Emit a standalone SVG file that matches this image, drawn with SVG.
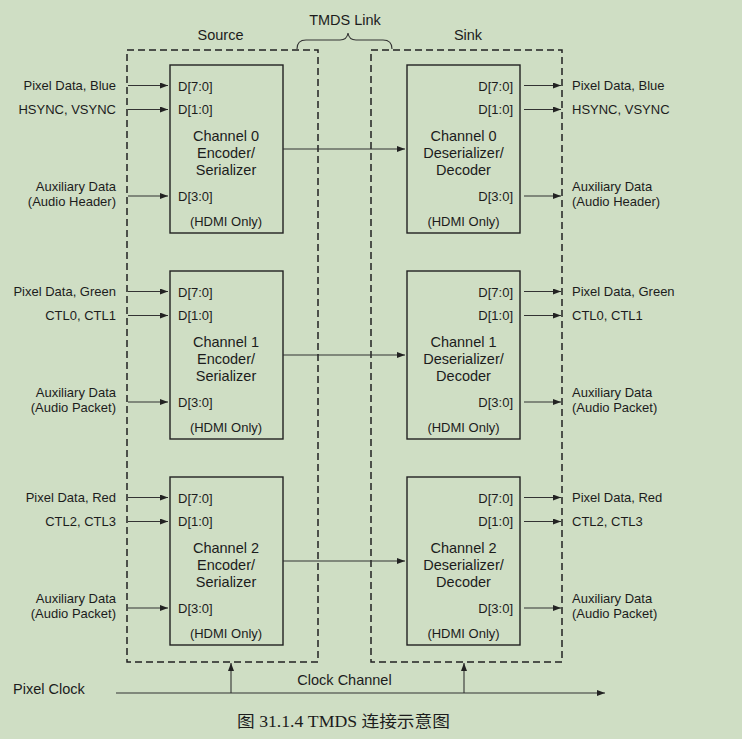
<svg xmlns="http://www.w3.org/2000/svg" width="742" height="739" viewBox="0 0 742 739">
<defs>
<style>
text{font-family:"Liberation Sans",Arial,sans-serif;fill:#1c1c1c}
.lg{font-size:14.5px}
.sm{font-size:13px}
.ctr{text-anchor:middle}
.end{text-anchor:end}
.dash{fill:none;stroke:#222;stroke-width:1.5;stroke-dasharray:7 4}
.box{fill:none;stroke:#222;stroke-width:1.4}
.ln{fill:none;stroke:#333;stroke-width:1.1}
.cap{font-family:"Liberation Serif","Noto Sans CJK SC",serif;font-size:16px}
</style>
<marker id="ah" markerUnits="userSpaceOnUse" markerWidth="8" markerHeight="6" refX="8" refY="3" orient="auto">
<path d="M0,0 L8,3 L0,6 z" fill="#222"/>
</marker>
</defs>
<rect x="0" y="0" width="742" height="739" fill="#cfdec4"/>

<g id="source">
<rect class="dash" x="127" y="50" width="191" height="612"/>
<text class="lg ctr" x="220.5" y="40">Source</text>
</g>
<g id="sink">
<rect class="dash" x="371" y="50" width="191" height="612"/>
<text class="lg ctr" x="468" y="40">Sink</text>
</g>
<g id="tmds-link">
<path class="ln" d="M297,49 Q297,40 306,40 L340,40 Q347,40 348,33 Q349,40 356,40 L383,40 Q392,40 392,49"/>
<text class="lg ctr" x="345" y="25">TMDS Link</text>
</g>

<g id="src-ch0">
<rect class="box" x="170" y="65" width="113" height="168"/>
<text class="sm" x="178" y="90.5">D[7:0]</text>
<text class="sm" x="178" y="114">D[1:0]</text>
<text class="sm" x="178" y="200.5">D[3:0]</text>
<text class="lg ctr" x="226" y="140.5">Channel 0</text>
<text class="lg ctr" x="226" y="158">Encoder/</text>
<text class="lg ctr" x="226" y="175">Serializer</text>
<text class="sm ctr" x="226" y="225.5">(HDMI Only)</text>
</g>
<g id="src-ch1">
<rect class="box" x="170" y="271" width="113" height="168"/>
<text class="sm" x="178" y="296.5">D[7:0]</text>
<text class="sm" x="178" y="320">D[1:0]</text>
<text class="sm" x="178" y="406.5">D[3:0]</text>
<text class="lg ctr" x="226" y="346.5">Channel 1</text>
<text class="lg ctr" x="226" y="364">Encoder/</text>
<text class="lg ctr" x="226" y="381">Serializer</text>
<text class="sm ctr" x="226" y="431.5">(HDMI Only)</text>
</g>
<g id="src-ch2">
<rect class="box" x="170" y="477" width="113" height="168"/>
<text class="sm" x="178" y="502.5">D[7:0]</text>
<text class="sm" x="178" y="526">D[1:0]</text>
<text class="sm" x="178" y="612.5">D[3:0]</text>
<text class="lg ctr" x="226" y="552.5">Channel 2</text>
<text class="lg ctr" x="226" y="570">Encoder/</text>
<text class="lg ctr" x="226" y="587">Serializer</text>
<text class="sm ctr" x="226" y="637.5">(HDMI Only)</text>
</g>

<g id="snk-ch0">
<rect class="box" x="407" y="65" width="113" height="168"/>
<text class="sm end" x="513" y="90.5">D[7:0]</text>
<text class="sm end" x="513" y="114">D[1:0]</text>
<text class="sm end" x="513" y="200.5">D[3:0]</text>
<text class="lg ctr" x="463.5" y="140.5">Channel 0</text>
<text class="lg ctr" x="463.5" y="158">Deserializer/</text>
<text class="lg ctr" x="463.5" y="175">Decoder</text>
<text class="sm ctr" x="463.5" y="225.5">(HDMI Only)</text>
</g>
<g id="snk-ch1">
<rect class="box" x="407" y="271" width="113" height="168"/>
<text class="sm end" x="513" y="296.5">D[7:0]</text>
<text class="sm end" x="513" y="320">D[1:0]</text>
<text class="sm end" x="513" y="406.5">D[3:0]</text>
<text class="lg ctr" x="463.5" y="346.5">Channel 1</text>
<text class="lg ctr" x="463.5" y="364">Deserializer/</text>
<text class="lg ctr" x="463.5" y="381">Decoder</text>
<text class="sm ctr" x="463.5" y="431.5">(HDMI Only)</text>
</g>
<g id="snk-ch2">
<rect class="box" x="407" y="477" width="113" height="168"/>
<text class="sm end" x="513" y="502.5">D[7:0]</text>
<text class="sm end" x="513" y="526">D[1:0]</text>
<text class="sm end" x="513" y="612.5">D[3:0]</text>
<text class="lg ctr" x="463.5" y="552.5">Channel 2</text>
<text class="lg ctr" x="463.5" y="570">Deserializer/</text>
<text class="lg ctr" x="463.5" y="587">Decoder</text>
<text class="sm ctr" x="463.5" y="637.5">(HDMI Only)</text>
</g>

<g id="labels-in">
<text class="sm end" x="116" y="90">Pixel Data, Blue</text>
<text class="sm end" x="116" y="114">HSYNC, VSYNC</text>
<text class="sm end" x="116" y="191">Auxiliary Data</text>
<text class="sm end" x="116" y="206">(Audio Header)</text>
<text class="sm end" x="116" y="296">Pixel Data, Green</text>
<text class="sm end" x="116" y="320">CTL0, CTL1</text>
<text class="sm end" x="116" y="397">Auxiliary Data</text>
<text class="sm end" x="116" y="412">(Audio Packet)</text>
<text class="sm end" x="116" y="502">Pixel Data, Red</text>
<text class="sm end" x="116" y="526">CTL2, CTL3</text>
<text class="sm end" x="116" y="603">Auxiliary Data</text>
<text class="sm end" x="116" y="618">(Audio Packet)</text>
</g>
<g id="labels-out">
<text class="sm" x="572" y="90">Pixel Data, Blue</text>
<text class="sm" x="572" y="114">HSYNC, VSYNC</text>
<text class="sm" x="572" y="191">Auxiliary Data</text>
<text class="sm" x="572" y="206">(Audio Header)</text>
<text class="sm" x="572" y="296">Pixel Data, Green</text>
<text class="sm" x="572" y="320">CTL0, CTL1</text>
<text class="sm" x="572" y="397">Auxiliary Data</text>
<text class="sm" x="572" y="412">(Audio Packet)</text>
<text class="sm" x="572" y="502">Pixel Data, Red</text>
<text class="sm" x="572" y="526">CTL2, CTL3</text>
<text class="sm" x="572" y="603">Auxiliary Data</text>
<text class="sm" x="572" y="618">(Audio Packet)</text>
</g>

<g id="connectors" class="ln" marker-end="url(#ah)">
<line x1="128" y1="85.5" x2="168" y2="85.5"/>
<line x1="128" y1="109.5" x2="168" y2="109.5"/>
<line x1="128" y1="196" x2="168" y2="196"/>
<line x1="128" y1="291.5" x2="168" y2="291.5"/>
<line x1="128" y1="315.5" x2="168" y2="315.5"/>
<line x1="128" y1="402" x2="168" y2="402"/>
<line x1="128" y1="497.5" x2="168" y2="497.5"/>
<line x1="128" y1="521.5" x2="168" y2="521.5"/>
<line x1="128" y1="608" x2="168" y2="608"/>
<line x1="283" y1="149" x2="405" y2="149"/>
<line x1="283" y1="355" x2="405" y2="355"/>
<line x1="283" y1="561" x2="405" y2="561"/>
<line x1="524" y1="85.5" x2="561" y2="85.5"/>
<line x1="524" y1="109.5" x2="561" y2="109.5"/>
<line x1="524" y1="196" x2="561" y2="196"/>
<line x1="524" y1="291.5" x2="561" y2="291.5"/>
<line x1="524" y1="315.5" x2="561" y2="315.5"/>
<line x1="524" y1="402" x2="561" y2="402"/>
<line x1="524" y1="497.5" x2="561" y2="497.5"/>
<line x1="524" y1="521.5" x2="561" y2="521.5"/>
<line x1="524" y1="608" x2="561" y2="608"/>
<line x1="116" y1="693" x2="605" y2="693"/>
<line x1="231" y1="693" x2="231" y2="663"/>
<line x1="464" y1="693" x2="464" y2="663"/>
</g>

<g id="clock">
<text class="lg" x="13" y="694">Pixel Clock</text>
<text class="lg ctr" x="344.5" y="685">Clock Channel</text>
</g>
<text class="cap" x="237" y="727" textLength="213" lengthAdjust="spacingAndGlyphs">图 31.1.4 TMDS 连接示意图</text>
</svg>
